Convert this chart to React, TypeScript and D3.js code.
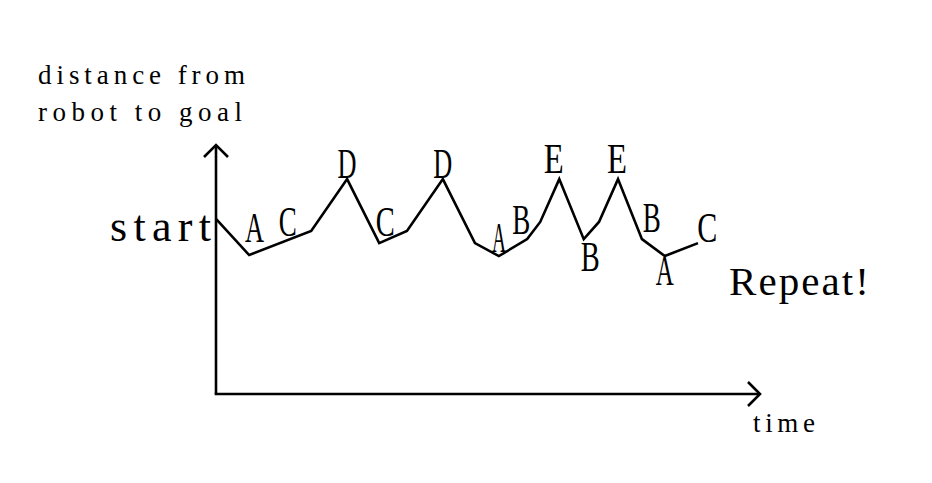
import React from "react";
import * as d3 from "d3";

// Path of distance over time (time and distance in arbitrary 0-100 units)
const times = [0, 6.1, 17.5, 24.1, 30.0, 35.1, 41.7, 47.6, 52.0, 57.2, 59.6, 63.1, 67.6, 70.4, 73.9, 78.3, 82.5, 88.6];
const distances = [70.3, 55.8, 65.5, 86.3, 60.6, 65.5, 86.3, 60.6, 55.4, 62.2, 69.1, 86.3, 62.2, 69.1, 86.3, 62.2, 55.4, 60.6];

// Action labels placed in the same data units (center x, baseline y)
const labelLetters = ["A", "C", "D", "C", "D", "A", "B", "E", "B", "E", "B", "A", "C"];
const labelTimes = [7.1, 13.2, 24.1, 31.1, 41.7, 52.0, 56.1, 62.1, 68.8, 73.7, 80.1, 82.5, 90.3];
const labelDistances = [61.0, 63.5, 86.7, 63.5, 86.7, 57.0, 64.3, 88.8, 49.4, 88.8, 65.1, 43.8, 61.0];
const labelWidths = [19, 18, 19, 19, 19, 14, 18, 20, 19, 20, 18, 18, 20];

const yTitle = ["distance from", "robot to goal"];
const xTitle = "time";
const startLabel = "start";
const repeatLabel = "Repeat!";

const W = 932;
const H = 483;
const FONT = "'Liberation Serif', 'DejaVu Serif', serif";

export default function App() {
  const x = d3.scaleLinear().domain([0, 100]).range([216, 760]);
  const y = d3.scaleLinear().domain([0, 100]).range([394, 145]);

  const pts: [number, number][] = times.map((t, i) => [x(t), y(distances[i])]);
  const line = d3.line<[number, number]>().x((d) => d[0]).y((d) => d[1]);

  const ox = x(0);
  const oy = y(0);
  const xt = x(100);
  const yt = y(100);
  const a = 12;

  return (
    <svg
      width={W}
      height={H}
      viewBox={`0 0 ${W} ${H}`}
      style={{ position: "absolute", left: 0, top: 0, background: "#fff" }}
    >
      <rect x={0} y={0} width={W} height={H} fill="#fff" />
      {/* axes */}
      <g stroke="#000" strokeWidth={2.6} fill="none" strokeLinecap="butt">
        <line x1={ox} y1={oy} x2={ox} y2={yt} />
        <line x1={ox - 1.3} y1={oy} x2={xt} y2={oy} />
        <path d={`M${ox - a},${yt + a} L${ox},${yt} L${ox + a},${yt + a}`} strokeLinejoin="miter" />
        <path d={`M${xt - a},${oy - a} L${xt},${oy} L${xt - a},${oy + a}`} strokeLinejoin="miter" />
      </g>
      {/* data path */}
      <path d={line(pts) || ""} fill="none" stroke="#000" strokeWidth={2.6} strokeLinejoin="miter" />
      {/* letter labels */}
      <g fontFamily={FONT} fontSize={43} fill="#000">
        {labelLetters.map((l, i) => (
          <text
            key={i}
            x={x(labelTimes[i]) - labelWidths[i] / 2}
            y={y(labelDistances[i])}
            textLength={labelWidths[i]}
            lengthAdjust="spacingAndGlyphs"
          >
            {l}
          </text>
        ))}
      </g>
      {/* axis titles */}
      <g fontFamily={FONT} fill="#000">
        <text x={38} y={84} fontSize={27} textLength={207} lengthAdjust="spacing">
          {yTitle[0]}
        </text>
        <text x={38} y={121} fontSize={27} textLength={204} lengthAdjust="spacing">
          {yTitle[1]}
        </text>
        <text x={753} y={432} fontSize={27} textLength={62} lengthAdjust="spacing">
          {xTitle}
        </text>
        <text x={110} y={241} fontSize={44} textLength={101} lengthAdjust="spacing">
          {startLabel}
        </text>
        <text x={729} y={295} fontSize={41} textLength={140} lengthAdjust="spacing">
          {repeatLabel}
        </text>
      </g>
    </svg>
  );
}
